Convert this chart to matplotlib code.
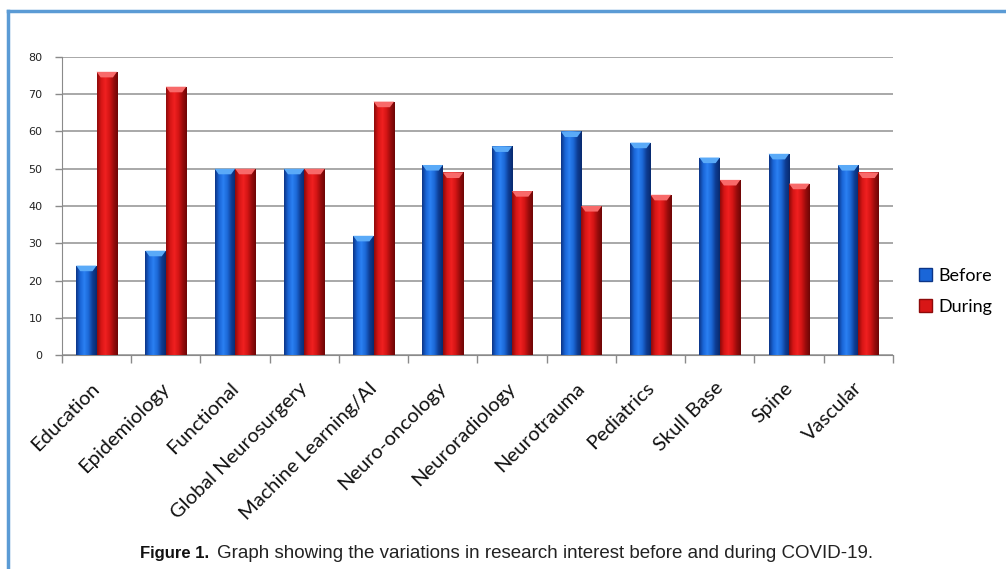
import numpy as np
import matplotlib
matplotlib.use("Agg")
import matplotlib.pyplot as plt
from matplotlib.colors import LinearSegmentedColormap
from matplotlib.patches import Patch, Polygon
from matplotlib.lines import Line2D

categories = ["Education", "Epidemiology", "Functional", "Global Neurosurgery",
              "Machine Learning/AI", "Neuro-oncology", "Neuroradiology",
              "Neurotrauma", "Pediatrics", "Skull Base", "Spine", "Vascular"]
before = [24, 28, 50, 50, 32, 51, 56, 60, 57, 53, 54, 51]
during = [76, 72, 50, 50, 68, 49, 44, 40, 43, 47, 46, 49]
yticks = [0, 10, 20, 30, 40, 50, 60, 70, 80]

blue_cmap = LinearSegmentedColormap.from_list(
    "b", ["#0c3587", "#1a66d8", "#2b80f2", "#1b68d6", "#0e3c92", "#082a6e"])
red_cmap = LinearSegmentedColormap.from_list(
    "r", ["#8e0a0a", "#d81616", "#f02020", "#d41515", "#990c0c", "#6e0606"])
blue_cap = "#5aaaf8"
red_cap = "#f86a6a"

fig = plt.figure(figsize=(10.06, 5.69), dpi=100)
ax = fig.add_axes([0.0616, 0.376, 0.826, 0.524])

x = np.arange(len(categories))
w = 0.295
grad = np.linspace(0, 1, 64).reshape(1, -1)


def gradient_bars(xpos, vals, cmap, cap):
    bars = ax.bar(xpos, vals, w, color="none", edgecolor="none", zorder=3)
    for b in bars:
        x0, y0 = b.get_x(), b.get_y()
        bw, bh = b.get_width(), b.get_height()
        im = ax.imshow(grad, cmap=cmap, aspect="auto",
                       extent=[x0, x0 + bw, y0, y0 + bh], zorder=3)
        im.set_clip_path(b)
        ch = 1.5
        top = y0 + bh
        poly = Polygon([[x0, top], [x0 + bw, top],
                        [x0 + bw * 0.8, top - ch], [x0 + bw * 0.2, top - ch]],
                       closed=True, facecolor=cap, edgecolor="none", zorder=4)
        ax.add_patch(poly)
    return bars


gradient_bars(x - w / 2, before, blue_cmap, blue_cap)
gradient_bars(x + w / 2, during, red_cmap, red_cap)

ax.set_xlim(-0.5, len(categories) - 0.5)
ax.set_ylim(0, 80)
ax.set_yticks(yticks)
ax.set_yticklabels([str(v) for v in yticks], fontsize=8, family="DejaVu Sans",
                   color="#222222")
ax.yaxis.grid(True, color="#9a9a9a", linewidth=1.2, zorder=0)
ax.set_axisbelow(True)

# category boundary ticks
ax.set_xticks(np.arange(-0.5, len(categories), 1.0))
ax.set_xticklabels([])
ax.tick_params(axis="x", length=6, color="#8a8a8a", width=1)
ax.tick_params(axis="y", length=5, color="#8a8a8a", width=1, pad=9)

for i, lab in enumerate(categories):
    ax.text(i - 0.08, -6.5, lab, rotation=45, ha="right", va="top",
            rotation_mode="anchor", fontsize=14.5, family="Lato",
            color="#111111")

for s in ["top", "right"]:
    ax.spines[s].set_visible(False)
ax.spines["left"].set_color("#8a8a8a")
ax.spines["bottom"].set_color("#8a8a8a")

# legend
handles = [Patch(facecolor="#1a66d8", edgecolor="#0c3587"),
           Patch(facecolor="#d81616", edgecolor="#8e0a0a")]
fig.legend(handles, ["Before", "During"], loc="center left",
           bbox_to_anchor=(0.897, 0.488), frameon=False, handlelength=0.75,
           handleheight=0.75, handletextpad=0.35, labelspacing=0.85,
           prop={"family": "Lato", "size": 13})

# figure border (top and left)
fig.add_artist(Line2D([0.008, 1.0], [0.981, 0.981], color="#5b9bd5", lw=2.5))
fig.add_artist(Line2D([0.008, 0.008], [0.0, 0.981], color="#5b9bd5", lw=2.5))

# caption
fig.text(0.139, 0.020, "Figure 1.", fontsize=12, weight="bold",
         family="Liberation Sans", color="#111111", ha="left", va="baseline")
fig.text(0.216, 0.020,
         "Graph showing the variations in research interest before and during COVID-19.",
         fontsize=13.5, family="Liberation Sans", color="#222222",
         ha="left", va="baseline")

fig.savefig("out.png", dpi=100)
